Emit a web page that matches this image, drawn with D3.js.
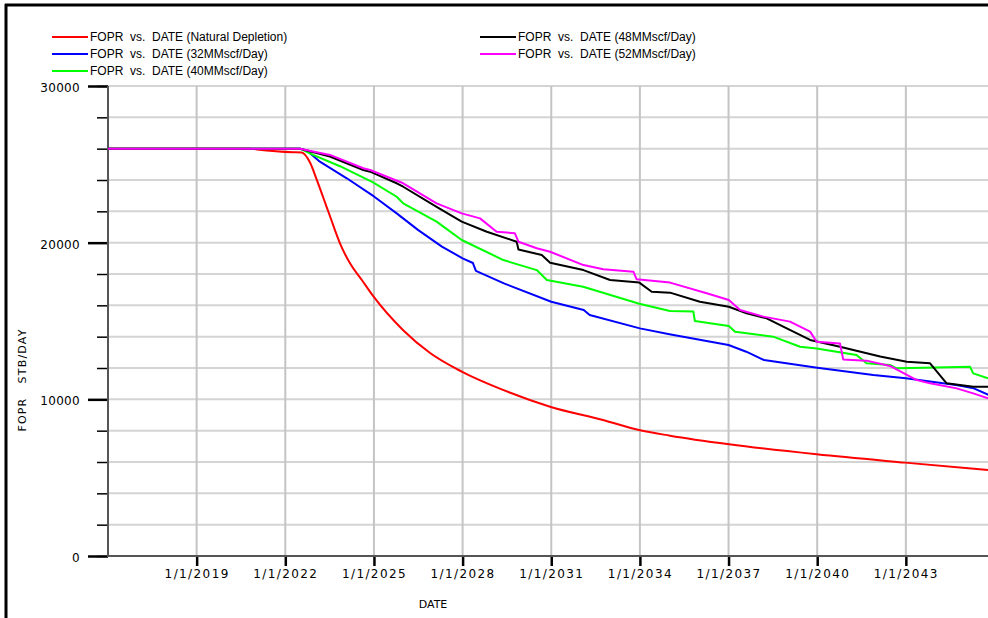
<!DOCTYPE html>
<html>
<head>
<meta charset="utf-8">
<script src="https://cdn.jsdelivr.net/npm/d3@7"></script>
<style>
body { margin: 0; background: #fff; }
svg { display: block; }
text { fill: #000; }
</style>
</head>
<body>
<svg class="chart"></svg>
<script>
// decimal year, FOPR (STB/DAY)
var natural = [[2016,26000],[2020.8,26000],[2021.04,25950],[2022.26,25770],[2022.55,25750],[2022.84,25100],
	[2023.06,24040],[2023.29,22850],[2023.51,21700],[2023.85,19960],[2024.19,18680],[2024.59,17620],[2024.97,16600],
	[2025.98,14430],[2026.9,12960],[2027.97,11770],[2029.37,10600],[2030.96,9530],[2032.75,8680],[2033.97,8040],
	[2035.02,7680],[2037.02,7130],[2039.98,6490],[2042.97,5960],[2045.78,5490]];
var gas32 = [[2016,26000],[2022.5,26000],[2022.75,25850],[2023.17,25170],[2024.08,24110],[2025.0,22950],
	[2025.77,21870],[2026.5,20800],[2027.3,19750],[2028.0,19000],[2028.35,18700],[2028.45,18200],[2029.4,17400],
	[2031.0,16230],[2032.1,15700],[2032.3,15380],[2034.0,14530],[2035.0,14150],[2037.0,13470],[2037.6,13040],
	[2038.2,12510],[2040.0,12020],[2041.9,11550],[2043.0,11340],[2044.7,10910],[2045.3,10700],[2045.8,10280]];
var gas40 = [[2016,26000],[2022.5,26000],[2022.94,25600],[2023.85,24880],[2024.97,23850],[2025.77,22930],
	[2025.99,22510],[2027.12,21340],[2027.97,20170],[2029.38,18890],[2030.51,18250],[2030.85,17620],[2032.08,17190],
	[2033.98,16100],[2035.02,15640],[2035.81,15600],[2035.86,15000],[2037.01,14680],[2037.22,14320],[2038.51,14000],
	[2039.42,13360],[2039.98,13250],[2041.33,12830],[2041.67,12300],[2042.46,12190],[2042.69,11980],[2043.59,12020],
	[2045.17,12080],[2045.28,11660],[2045.78,11340]];
var gas48 = [[2016,26000],[2022.5,26000],[2023.51,25500],[2024.64,24640],[2024.87,24530],[2025.77,23790],
	[2025.99,23570],[2027.12,22290],[2027.97,21340],[2028.82,20700],[2029.83,20060],[2029.89,19570],[2030.68,19210],
	[2030.96,18720],[2032.09,18250],[2032.99,17620],[2033.98,17450],[2034.4,16870],[2035.02,16810],[2036.03,16230],
	[2037.01,15910],[2037.61,15490],[2038.29,15170],[2038.85,14640],[2039.76,13790],[2040.77,13360],[2042.13,12730],
	[2043.03,12400],[2043.82,12300],[2044.38,11020],[2045.28,10810],[2045.78,10810]];
var gas52 = [[2016,26000],[2022.5,26000],[2023.51,25600],[2024.64,24750],[2024.87,24640],[2025.99,23790],
	[2027.12,22510],[2027.97,21870],[2028.59,21550],[2029.15,20700],[2029.77,20600],[2029.89,20060],[2030.51,19640],
	[2030.96,19420],[2032.09,18570],[2032.76,18300],[2033.78,18150],[2033.89,17660],[2035.02,17450],[2036.26,16770],
	[2037.01,16340],[2037.39,15700],[2038.18,15280],[2039.08,14960],[2039.76,14320],[2039.98,13680],[2040.77,13570],
	[2040.88,12550],[2041.67,12470],[2042.46,12130],[2043.37,11230],[2043.82,11020],[2044.72,10700],[2045.28,10380],
	[2045.78,10060]];

var seriesNames = ["FOPR  vs.  DATE (Natural Depletion)", "FOPR  vs.  DATE (32MMscf/Day)", "FOPR  vs.  DATE (40MMscf/Day)",
	"FOPR  vs.  DATE (48MMscf/Day)", "FOPR  vs.  DATE (52MMscf/Day)"];
var seriesColors = ["#ff0000", "#0000ff", "#00ff00", "#000000", "#ff00ff"];
var seriesData = [natural, gas32, gas40, gas48, gas52];

var xTickYears = [2019, 2022, 2025, 2028, 2031, 2034, 2037, 2040, 2043];
var yMajorTicks = [0, 10000, 20000, 30000];
var yMinorTicks = d3.range(0, 30001, 2000);

var svg = d3.select(".chart")
	.attr("width", 988)
	.attr("height", 618);

var x = d3.scaleLinear().domain([2016, 2046]).range([108, 994.5]);
var y = d3.scaleLinear().domain([0, 30000]).range([556, 86]);

// frame
svg.append("line").attr("x1", 5).attr("x2", 988).attr("y1", 5).attr("y2", 5)
	.attr("stroke", "#000").attr("stroke-width", 3);
svg.append("line").attr("x1", 6).attr("x2", 6).attr("y1", 4).attr("y2", 618)
	.attr("stroke", "#000").attr("stroke-width", 3);

// grid
svg.append("g").selectAll("line").data(yMinorTicks.filter(function(d) { return d > 0; })).enter().append("line")
	.attr("x1", 108).attr("x2", 988)
	.attr("y1", function(d) { return y(d); }).attr("y2", function(d) { return y(d); })
	.attr("stroke", "#d4d4d4").attr("stroke-width", 2);
svg.append("g").selectAll("line").data(xTickYears).enter().append("line")
	.attr("x1", function(d) { return x(d); }).attr("x2", function(d) { return x(d); })
	.attr("y1", 86).attr("y2", 556)
	.attr("stroke", "#c4c4c4").attr("stroke-width", 2);

// axes
var yAxisMinor = d3.axisLeft(y).tickValues(yMinorTicks).tickSize(11).tickFormat("");
var yAxisMajor = d3.axisLeft(y).tickValues(yMajorTicks).tickSize(20).tickPadding(8).tickFormat(d3.format("d"));
var xAxis = d3.axisBottom(x).tickValues(xTickYears).tickSize(10).tickPadding(3)
	.tickFormat(function(d) { return "1/1/" + d; });

var gMinor = svg.append("g").attr("transform", "translate(108,0)").call(yAxisMinor);
gMinor.select(".domain").remove();
gMinor.selectAll(".tick line").attr("stroke", "#000").attr("stroke-width", 1.5);

var gMajor = svg.append("g").attr("transform", "translate(108,0)").call(yAxisMajor);
gMajor.select(".domain").remove();
gMajor.selectAll(".tick line").attr("stroke", "#000").attr("stroke-width", 2.5);
gMajor.selectAll(".tick text")
	.style("font-family", "DejaVu Sans").style("font-size", "12px").style("letter-spacing", "0.3px")
	.attr("dy", "0.45em").attr("fill", "#000");

var gX = svg.append("g").attr("transform", "translate(0,556)").call(xAxis);
gX.select(".domain").remove();
gX.selectAll(".tick line").attr("stroke", "#000").attr("stroke-width", 2.5);
gX.selectAll(".tick text")
	.style("font-family", "DejaVu Sans").style("font-size", "12px").style("letter-spacing", "1.4px")
	.attr("fill", "#000");

svg.append("line").attr("x1", 108).attr("x2", 108).attr("y1", 86).attr("y2", 557)
	.attr("stroke", "#555").attr("stroke-width", 2);
svg.append("line").attr("x1", 107).attr("x2", 988).attr("y1", 556).attr("y2", 556)
	.attr("stroke", "#555").attr("stroke-width", 2);

// series (natural depletion is a smooth curve, the gas cases are stepwise)
var line = d3.line()
	.x(function(d) { return x(d[0]); })
	.y(function(d) { return y(d[1]); });
var smoothLine = d3.line()
	.x(function(d) { return x(d[0]); })
	.y(function(d) { return y(d[1]); })
	.curve(d3.curveMonotoneX);

svg.append("g").selectAll("path").data(seriesData).enter().append("path")
	.attr("d", function(d, i) { return i == 0 ? smoothLine(d) : line(d); })
	.attr("fill", "none")
	.attr("stroke", function(d, i) { return seriesColors[i]; })
	.attr("stroke-width", 2)
	.attr("stroke-linejoin", "round");

// legend
var legendPos = [[52, 37], [52, 54], [52, 71], [480, 37], [480, 54]];
var legend = svg.append("g").selectAll("g").data(seriesNames).enter().append("g")
	.attr("transform", function(d, i) { return "translate(" + legendPos[i][0] + "," + legendPos[i][1] + ")"; });
legend.append("line")
	.attr("x1", 0).attr("x2", 36).attr("y1", 0).attr("y2", 0)
	.attr("stroke", function(d, i) { return seriesColors[i]; })
	.attr("stroke-width", 2);
legend.append("text")
	.attr("x", 38).attr("y", 4)
	.style("font-family", "Liberation Sans, Arial").style("font-size", "12px")
	.style("white-space", "pre")
	.text(function(d) { return d; });

// axis titles
svg.append("text")
	.attr("x", 433).attr("y", 608)
	.attr("text-anchor", "middle")
	.style("font-family", "DejaVu Sans").style("font-size", "11px")
	.text("DATE");

svg.append("text")
	.attr("transform", "translate(26,380) rotate(-90)")
	.attr("text-anchor", "middle")
	.style("font-family", "DejaVu Sans").style("font-size", "11px").style("letter-spacing", "1.2px")
	.style("white-space", "pre")
	.text("FOPR   STB/DAY");
</script>
</body>
</html>
